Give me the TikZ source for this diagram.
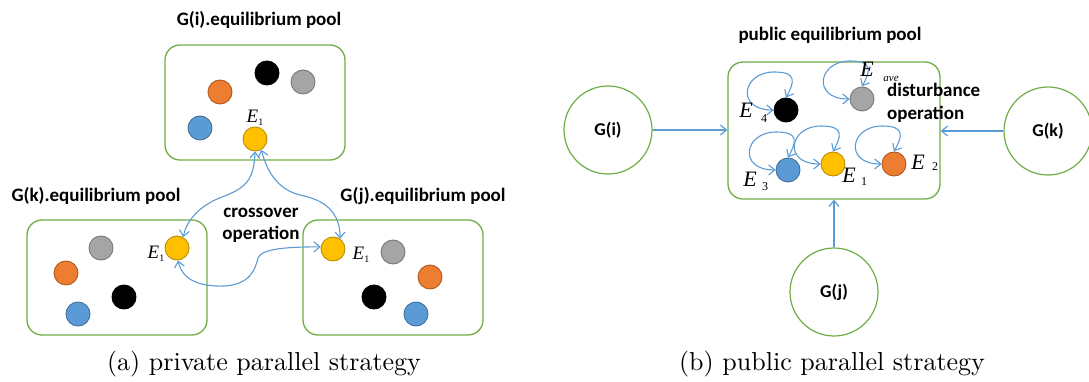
\documentclass[tikz,border=0pt]{standalone}
\usepackage{fontspec}
\setsansfont{Carlito}
\newfontfamily\tnr{Liberation Serif}
\newfontfamily\capfont{lmroman10-regular.otf}
\usetikzlibrary{arrows.meta,calc}
\definecolor{pgreen}{RGB}{112,173,71}
\definecolor{lblue}{RGB}{91,155,213}
\definecolor{oFill}{RGB}{237,125,49}
\definecolor{oDraw}{RGB}{174,90,33}
\definecolor{gFill}{RGB}{165,165,165}
\definecolor{gDraw}{RGB}{120,120,120}
\definecolor{yFill}{RGB}{255,192,0}
\definecolor{yDraw}{RGB}{188,140,0}
\definecolor{bFill}{RGB}{91,155,213}
\definecolor{bDraw}{RGB}{65,113,156}
\begin{document}
\begin{tikzpicture}[x=1pt,y=-1pt,
  pool/.style={draw=pgreen, line width=1.3pt, rounded corners=15pt, rectangle, inner sep=0pt},
  ball/.style={circle, minimum size=24pt, inner sep=0pt, line width=0.9pt},
  orb/.style={ball, fill=oFill, draw=oDraw},
  grb/.style={ball, fill=gFill, draw=gDraw},
  yrb/.style={ball, fill=yFill, draw=yDraw},
  brb/.style={ball, fill=bFill, draw=bDraw},
  krb/.style={ball, fill=black, draw=black},
  gnode/.style={circle, draw=pgreen, line width=1.2pt, minimum size=88pt, inner sep=0pt, font=\sffamily\bfseries\fontsize{18}{18}\selectfont},
  title/.style={font=\sffamily\bfseries\fontsize{19}{19}\selectfont, anchor=base, inner sep=0pt},
  optext/.style={font=\sffamily\bfseries\fontsize{19}{23}\selectfont, inner sep=0pt},
  conn/.style={draw=lblue, line width=1.1pt, {Straight Barb[length=6pt,width=10pt]}-{Straight Barb[length=6pt,width=10pt]}},
  arr/.style={draw=lblue, line width=1.2pt, -{Straight Barb[length=6pt,width=10pt]}},
  esmall/.style={font=\tnr\fontsize{19}{19}\selectfont, inner sep=0pt},
  ebig/.style={font=\tnr\itshape\fontsize{22}{22}\selectfont, inner sep=0pt},
  esub/.style={font=\tnr\fontsize{12}{12}\selectfont, inner sep=0pt},
  capt/.style={font=\capfont\fontsize{26}{26}\selectfont, anchor=base, inner sep=0pt}
]
\useasboundingbox (0,0) rectangle (1089,382);

% ---------- panel (a) ----------
\node[title] (ti) at (259,26) {G(i).equilibrium pool};
\node[title] (tk) at (96,202) {G(k).equilibrium pool};
\node[title] (tj) at (423,202) {G(j).equilibrium pool};

\node[pool, minimum width=180pt, minimum height=115pt] (pi) at (255,102.5) {};
\node[pool, minimum width=180pt, minimum height=115pt] (pk) at (117,277.5) {};
\node[pool, minimum width=180pt, minimum height=115pt] (pj) at (393,277.5) {};

% G(i) balls
\node[orb] (io) at (220,92) {};
\node[krb] (ik) at (267,73) {};
\node[grb] (ig) at (303,82) {};
\node[brb] (ib) at (200,128) {};
\node[yrb] (y1) at (255,139) {};
\node[esmall] (e1i) at (255,118) {\textit{E}\raisebox{-3pt}{\fontsize{10}{10}\selectfont 1}};

% G(k) balls
\node[grb] (kg) at (101,248) {};
\node[orb] (ko) at (66,273) {};
\node[krb] (kk) at (124,297) {};
\node[brb] (kb) at (78,314) {};
\node[yrb] (y2) at (177,248) {};
\node[esmall] (e1k) at (156,254) {\textit{E}\raisebox{-3pt}{\fontsize{10}{10}\selectfont 1}};

% G(j) balls
\node[yrb] (y3) at (333,249) {};
\node[grb] (jg) at (393,252) {};
\node[orb] (jo) at (430,277) {};
\node[krb] (jk) at (374,297) {};
\node[brb] (jb) at (416,314) {};
\node[esmall] (e1j) at (361,255) {\textit{E}\raisebox{-3pt}{\fontsize{10}{10}\selectfont 1}};

\node[optext, align=center, anchor=base] (cross) at (261,240) {crossover\\operation};

\draw[conn] (y1.270) .. controls (254,180) and (246,188) .. (222,197) .. controls (198,206) and (186,222) .. (y2.60);
\draw[conn] (y1.300) .. controls (268,175) and (280,190) .. (300,195) .. controls (325,200) and (340,212) .. (y3.55);
\draw[conn] (y2.275) .. controls (182,280) and (200,287) .. (225,286) .. controls (250,284) and (255,270) .. (258,258) .. controls (262,248) and (290,247) .. (y3.170);

\node[capt] (capa) at (264,370) {(a) private parallel strategy};

% ---------- panel (b) ----------
\node[title] (tp) at (830,41) {public equilibrium pool};
\node[pool, minimum width=212pt, minimum height=137pt] (pub) at (834,130.5) {};

\node[krb] (b4) at (786,110) {};
\node[grb] (bav) at (862,99) {};
\node[brb] (b3) at (788,170) {};
\node[yrb] (b1) at (833,164) {};
\node[orb] (b2) at (894,164) {};

\foreach \b in {b4,bav,b3,b1,b2}{
  \draw[conn] (\b.west) .. controls +(-38,0) and +(-32,0) .. ($(\b)+(-12,-38)$) .. controls +(24,0) and +(8,-15) .. (\b.north);
}

\node[ebig] (E4) at (746,110) {E};
\node[esub] (s4) at (764,119) {4};
\node[ebig] (Eav) at (867,69) {E};
\node[esub, font=\tnr\itshape\fontsize{11}{11}\selectfont] (sav) at (891,79) {ave};
\node[ebig] (E3) at (750,179) {E};
\node[esub] (s3) at (765,187) {3};
\node[ebig] (E1) at (849,175) {E};
\node[esub] (s1) at (864,182) {1};
\node[ebig] (E2) at (918,162) {E};
\node[esub] (s2) at (935,167) {2};

\node[optext, align=left, anchor=base west] (dist) at (887,120) {disturbance\\operation};

\node[gnode] (gi) at (608,130) {G(i)};
\node[gnode] (gk) at (1048,131) {G(k)};
\node[gnode] (gj) at (834,292) {G(j)};

\draw[arr] (gi.east) -- (gi.east -| pub.west);
\draw[arr] (gk.west) -- (gk.west -| pub.east);
\draw[arr] (gj.north) -- (gj.north |- pub.south);

\node[capt] (capb) at (832,370) {(b) public parallel strategy};
\end{tikzpicture}
\end{document}
